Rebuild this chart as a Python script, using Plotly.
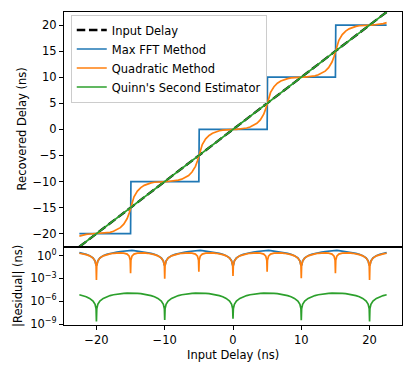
import numpy as np
import plotly.graph_objects as go
from plotly.subplots import make_subplots

# input delay grid (ns)
delay = [
    -22.5, -22, -21.5, -21, -20.5, -20.2, -20.05, -20,
    -19.95, -19.8, -19.5, -19, -18.5, -18, -17.5, -17, -16.5, -16, -15.5, -15.2, -15.05, -15,
    -14.95, -14.8, -14.5, -14, -13.5, -13, -12.5, -12, -11.5, -11, -10.5, -10.2, -10.05, -10,
    -9.95, -9.8, -9.5, -9, -8.5, -8, -7.5, -7, -6.5, -6, -5.5, -5.2, -5.05, -5,
    -4.95, -4.8, -4.5, -4, -3.5, -3, -2.5, -2, -1.5, -1, -0.5, -0.2, -0.05, 0,
    0.05, 0.2, 0.5, 1, 1.5, 2, 2.5, 3, 3.5, 4, 4.5, 4.8, 4.95, 5,
    5.05, 5.2, 5.5, 6, 6.5, 7, 7.5, 8, 8.5, 9, 9.5, 9.8, 9.95, 10,
    10.05, 10.2, 10.5, 11, 11.5, 12, 12.5, 13, 13.5, 14, 14.5, 14.8, 14.95, 15,
    15.05, 15.2, 15.5, 16, 16.5, 17, 17.5, 18, 18.5, 19, 19.5, 19.8, 19.95, 20,
    20.05, 20.2, 20.5, 21, 21.5, 22, 22.5,
]

max_fft = (
    [-20] * 8
    + [-20] * 14
    + [-10] * 14
    + [-10] * 14
    + [0] * 14
    + [0] * 14
    + [10] * 14
    + [10] * 14
    + [20] * 14
    + [20] * 7
)

quadratic = [
    -20.455, -20.263, -20.136, -20.056, -20.013, -20.002, -20.0001, -20.00063,
    -19.9999, -19.998, -19.987, -19.944, -19.864, -19.737, -19.545, -19.262, -18.839, -18.182, -17.086, -16.022, -15.287, -15.005,
    -14.713, -13.978, -12.914, -11.818, -11.161, -10.738, -10.455, -10.263, -10.136, -10.056, -10.013, -10.002, -10.0001, -10.00089,
    -9.9999, -9.998, -9.987, -9.944, -9.864, -9.737, -9.545, -9.262, -8.839, -8.182, -7.086, -6.022, -5.287, -5.0079,
    -4.713, -3.978, -2.914, -1.818, -1.161, -0.738, -0.455, -0.263, -0.136, -0.056, -0.013, -0.002, -0.0001, 0.0022,
    0.0001, 0.002, 0.013, 0.056, 0.136, 0.263, 0.455, 0.738, 1.161, 1.818, 2.914, 3.978, 4.713, 5.0079,
    5.287, 6.022, 7.086, 8.182, 8.839, 9.262, 9.545, 9.737, 9.864, 9.944, 9.987, 9.998, 9.9999, 10.0011,
    10.0001, 10.002, 10.013, 10.056, 10.136, 10.263, 10.455, 10.738, 11.161, 11.818, 12.914, 13.978, 14.713, 15.005,
    15.287, 16.022, 17.086, 18.182, 18.839, 19.262, 19.545, 19.737, 19.864, 19.944, 19.987, 19.998, 19.9999, 20.00063,
    20.0001, 20.002, 20.013, 20.056, 20.136, 20.263, 20.455,
]

# |residual| of Quinn's second estimator (ns)
quinn_resid = [
    7.2e-6, 5.6e-6, 4.0e-6, 2.4e-6, 1.05e-6, 4.0e-7, 1.0e-7, 2.2e-9,
    1.0e-7, 4.0e-7, 1.05e-6, 2.4e-6, 4.0e-6, 5.6e-6, 7.2e-6, 8.9e-6, 1.02e-5, 1.12e-5, 1.17e-5, 1.19e-5, 1.2e-5, 1.2e-5,
    1.2e-5, 1.19e-5, 1.17e-5, 1.12e-5, 1.02e-5, 8.9e-6, 7.2e-6, 5.6e-6, 4.0e-6, 2.4e-6, 1.05e-6, 4.0e-7, 1.0e-7, 3.5e-9,
    1.0e-7, 4.0e-7, 1.05e-6, 2.4e-6, 4.0e-6, 5.6e-6, 7.2e-6, 8.9e-6, 1.02e-5, 1.12e-5, 1.17e-5, 1.19e-5, 1.2e-5, 1.2e-5,
    1.2e-5, 1.19e-5, 1.17e-5, 1.12e-5, 1.02e-5, 8.9e-6, 7.2e-6, 5.6e-6, 4.0e-6, 2.4e-6, 1.05e-6, 4.0e-7, 1.0e-7, 5.0e-9,
    1.0e-7, 4.0e-7, 1.05e-6, 2.4e-6, 4.0e-6, 5.6e-6, 7.2e-6, 8.9e-6, 1.02e-5, 1.12e-5, 1.17e-5, 1.19e-5, 1.2e-5, 1.2e-5,
    1.2e-5, 1.19e-5, 1.17e-5, 1.12e-5, 1.02e-5, 8.9e-6, 7.2e-6, 5.6e-6, 4.0e-6, 2.4e-6, 1.05e-6, 4.0e-7, 1.0e-7, 3.2e-9,
    1.0e-7, 4.0e-7, 1.05e-6, 2.4e-6, 4.0e-6, 5.6e-6, 7.2e-6, 8.9e-6, 1.02e-5, 1.12e-5, 1.17e-5, 1.19e-5, 1.2e-5, 1.2e-5,
    1.2e-5, 1.19e-5, 1.17e-5, 1.12e-5, 1.02e-5, 8.9e-6, 7.2e-6, 5.6e-6, 4.0e-6, 2.4e-6, 1.05e-6, 4.0e-7, 1.0e-7, 2.2e-9,
    1.0e-7, 4.0e-7, 1.05e-6, 2.4e-6, 4.0e-6, 5.6e-6, 7.2e-6,
]

x_ticks = [-20, -10, 0, 10, 20]
y_ticks = [-20, -15, -10, -5, 0, 5, 10, 15, 20]
log_ticks = [1e-9, 1e-6, 1e-3, 1]
log_labels = ["10<sup>−9</sup>", "10<sup>−6</sup>", "10<sup>−3</sup>", "10<sup>0</sup>"]

BLUE = "#1f77b4"
ORANGE = "#ff7f0e"
GREEN = "#2ca02c"
FONT = "DejaVu Sans"
LW = 1.7

x = np.array(delay)
fft = np.array(max_fft, dtype=float)
quad = np.array(quadratic)
quinn = np.array(quinn_resid)

res_fft = np.abs(fft - x)
res_fft[res_fft == 0] = np.nan
res_quad = np.abs(quad - x)

fig = make_subplots(rows=2, cols=1, shared_xaxes=True, vertical_spacing=0,
                    row_heights=[0.75, 0.25])

fig.add_trace(go.Scatter(x=x, y=x, mode="lines", name="Input Delay",
                         line=dict(color="black", width=2.3, dash="8.5px,3.7px")), row=1, col=1)
fig.add_trace(go.Scatter(x=x, y=fft, mode="lines", name="Max FFT Method",
                         line=dict(color=BLUE, width=LW)), row=1, col=1)
fig.add_trace(go.Scatter(x=x, y=quad, mode="lines", name="Quadratic Method",
                         line=dict(color=ORANGE, width=LW)), row=1, col=1)
fig.add_trace(go.Scatter(x=x, y=x + quinn, mode="lines", name="Quinn's Second Estimator",
                         line=dict(color=GREEN, width=LW)), row=1, col=1)

fig.add_trace(go.Scatter(x=x, y=res_fft, mode="lines", showlegend=False,
                         line=dict(color=BLUE, width=LW)), row=2, col=1)
fig.add_trace(go.Scatter(x=x, y=res_quad, mode="lines", showlegend=False,
                         line=dict(color=ORANGE, width=LW)), row=2, col=1)
fig.add_trace(go.Scatter(x=x, y=quinn, mode="lines", showlegend=False,
                         line=dict(color=GREEN, width=LW)), row=2, col=1)

axis_style = dict(showline=True, mirror=True, linecolor="black", linewidth=1,
                  showgrid=False, zeroline=False, ticks="outside", ticklen=4,
                  tickwidth=1, tickcolor="black",
                  tickfont=dict(family=FONT, size=11.5, color="black"))

fig.update_xaxes(**axis_style)
fig.update_yaxes(**axis_style)
fig.update_xaxes(range=[-24.75, 24.75], tickvals=x_ticks)
fig.update_xaxes(row=1, col=1, showticklabels=False, ticks="", domain=[0, 1])
fig.update_yaxes(row=1, col=1, range=[-22.5, 22.5], tickvals=y_ticks, domain=[0.25, 1])
fig.update_yaxes(row=2, col=1, type="log", range=[-9.12, 1.17],
                 tickvals=log_ticks, ticktext=log_labels, domain=[0, 0.25])

label_font = dict(family=FONT, size=11.5, color="black")
# the page body adds an 8px offset, so margins are shifted to compensate
fig.update_layout(
    width=415, height=374,
    margin=dict(l=56, r=21, t=4, b=57),
    paper_bgcolor="white", plot_bgcolor="white",
    font=dict(family=FONT, size=11.5, color="black"),
    legend=dict(x=0.02, y=0.992, xanchor="left", yanchor="top",
                bordercolor="#cccccc", borderwidth=1,
                bgcolor="rgba(255,255,255,0.8)", font=label_font,
                tracegroupgap=0),
    annotations=[
        dict(text="Recovered Delay (ns)", xref="paper", yref="paper", x=0, y=0.625,
             xshift=-42, textangle=-90, showarrow=False, font=label_font,
             xanchor="center", yanchor="middle"),
        dict(text="|Residual| (ns)", xref="paper", yref="paper", x=0, y=0.125,
             xshift=-46, textangle=-90, showarrow=False, font=label_font,
             xanchor="center", yanchor="middle"),
        dict(text="Input Delay (ns)", xref="paper", yref="paper", x=0.5, y=0,
             yshift=-30, showarrow=False, font=label_font,
             xanchor="center", yanchor="middle"),
    ],
)

fig.write_html("out.html")
